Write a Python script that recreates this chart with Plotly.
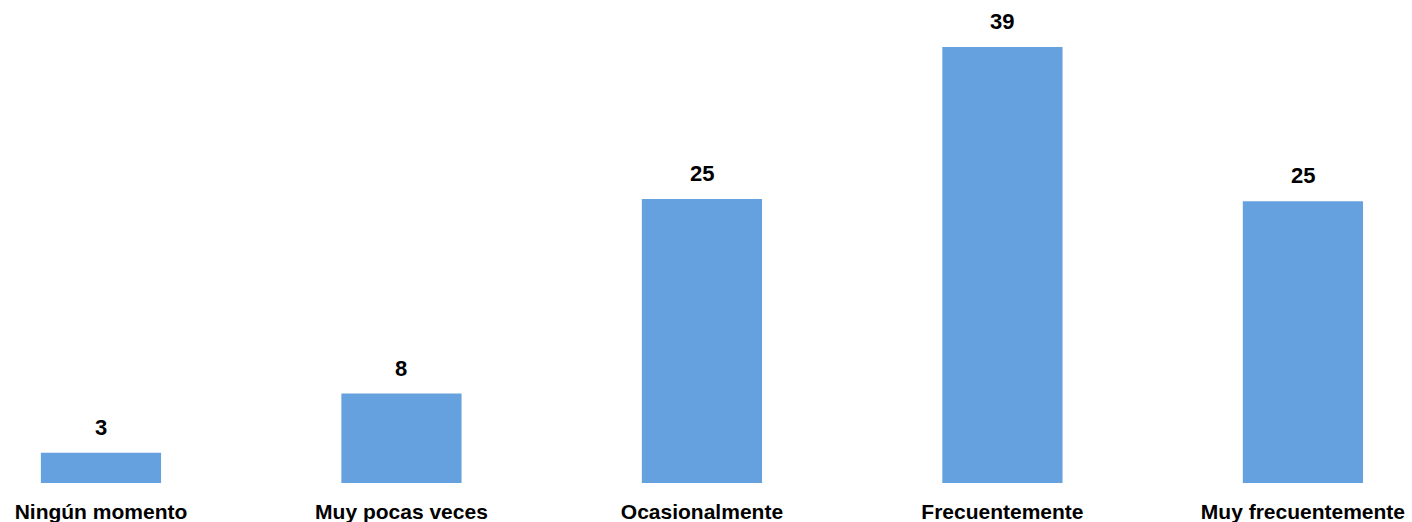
import plotly.graph_objects as go

categories = ["Ningún momento", "Muy pocas veces", "Ocasionalmente", "Frecuentemente", "Muy frecuentemente"]
values = [2.7, 8.0, 25.4, 39.0, 25.2]
value_labels = ["3", "8", "25", "39", "25"]

x_pos = list(range(len(categories)))

fig = go.Figure()
fig.add_trace(go.Bar(
    x=x_pos,
    y=values,
    width=0.4,
    marker=dict(color="#65A1DE", line=dict(width=0)),
    hoverinfo="skip",
))

for xi, v, lab in zip(x_pos, values, value_labels):
    fig.add_annotation(
        x=xi, y=v, text=lab, showarrow=False,
        yanchor="bottom", yshift=11,
        font=dict(family="Liberation Sans Narrow, Arial Narrow, Liberation Sans, Arial", size=22, color="#000000", weight="bold"),
    )

fig.update_layout(
    width=1412, height=522,
    margin=dict(l=0, r=0, t=0, b=39),
    paper_bgcolor="white", plot_bgcolor="white",
    showlegend=False,
    xaxis=dict(
        range=[-0.336, 4.363],
        tickmode="array", tickvals=x_pos, ticktext=categories,
        showgrid=False, zeroline=False, showline=False, ticks="",
        tickfont=dict(family="Liberation Sans, Arial", size=21, color="#000000", weight="bold"),
        ticklabelstandoff=14,
    ),
    yaxis=dict(range=[0, 43.2], visible=False),
)

fig.write_html(
    "out.html",
    config={"displayModeBar": False},
    post_script="document.body.style.margin='0';document.body.style.overflow='hidden';",
)
